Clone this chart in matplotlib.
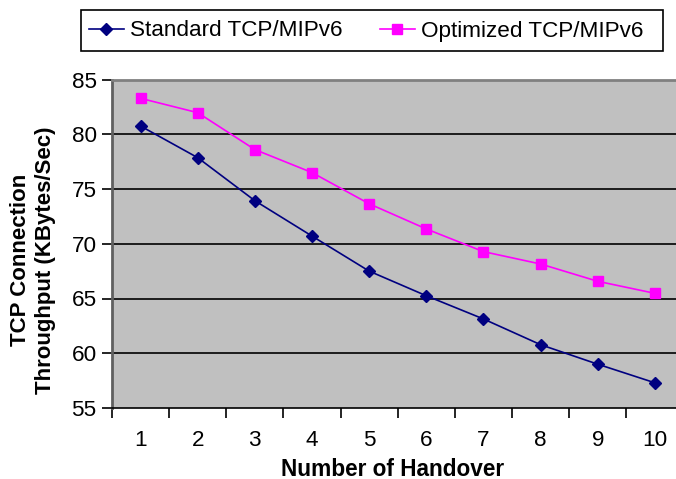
import matplotlib
matplotlib.use("Agg")
import matplotlib.pyplot as plt
from matplotlib.lines import Line2D
from matplotlib.patches import Rectangle
from matplotlib.ticker import MultipleLocator

plt.rcParams['font.family'] = ['Liberation Sans', 'DejaVu Sans']

handovers = [1, 2, 3, 4, 5, 6, 7, 8, 9, 10]
standard = [80.75, 77.86, 73.93, 70.7, 67.5, 65.25, 63.13, 60.78, 59.0, 57.3]
optimized = [83.28, 81.97, 78.6, 76.5, 73.65, 71.35, 69.28, 68.15, 66.57, 65.47]
series_names = ["Standard TCP/MIPv6", "Optimized TCP/MIPv6"]

W, H = 676, 479
fig = plt.figure(figsize=(W / 100, H / 100), dpi=100)
left, right, top, bottom = 112, 683.5, 79.5, 408
ax = fig.add_axes([left / W, 1 - bottom / H, (right - left) / W, (bottom - top) / H])
ax.set_facecolor('#C0C0C0')

ax.set_xlim(0.5, 10.5)
ax.set_ylim(55, 85)
ax.yaxis.set_major_locator(MultipleLocator(5))
for y in range(60, 85, 5):
    ax.axhline(y, color='black', lw=1.2, zorder=1)

ax.plot(handovers, standard, color='#000080', lw=1.2, marker='D', ms=6,
        mfc='#000080', mec='#000080', zorder=3, label=series_names[0])
ax.plot(handovers, optimized, color='#FF00FF', lw=1.2, marker='s', ms=7.5,
        mfc='#FF00FF', mec='#FF00FF', zorder=3, label=series_names[1])

fs = 16.2
ax.set_xticks(handovers)
ax.set_xticks([x + 0.5 for x in range(0, 11)], minor=True)
ax.tick_params(axis='x', which='major', length=0, pad=16, labelsize=fs)
ax.tick_params(axis='x', which='minor', length=7, width=1.2, direction='out', color='black')
ax.tick_params(axis='y', which='major', length=7, width=1.2, direction='out', pad=4, labelsize=fs)

ax.spines['right'].set_visible(False)
ax.spines['top'].set_color('#808080')
ax.spines['top'].set_linewidth(2)
ax.spines['left'].set_color('#606060')
ax.spines['left'].set_linewidth(2)
ax.spines['bottom'].set_color('black')
ax.spines['bottom'].set_linewidth(1.2)

fig.text(393 / W, 1 - 469 / H, "Number of Handover", ha='center', va='center',
         fontsize=16.3, fontweight='bold')
fig.text(33 / W, 1 - 260 / H, "TCP Connection\nThroughput (KBytes/Sec)", ha='center',
         va='center', rotation=90, fontsize=16, fontweight='bold', linespacing=1.2)

handles = [Line2D([0], [0], color='#000080', lw=1.2, marker='D', ms=6),
           Line2D([0], [0], color='#FF00FF', lw=1.2, marker='s', ms=7.5)]
lx0, lx1, ly0, ly1 = 81.3, 662.7, 10.3, 50.7
fig.patches.append(Rectangle((lx0 / W, 1 - ly1 / H), (lx1 - lx0) / W, (ly1 - ly0) / H,
                             transform=fig.transFigure, fill=False, edgecolor='black',
                             lw=1.2, zorder=5))
leg = fig.legend(handles, series_names, loc='center left',
                 bbox_to_anchor=(89 / W, 1 - 31 / H), ncol=2, fontsize=fs, frameon=False,
                 handlelength=1.55, handletextpad=0.27, borderpad=0, columnspacing=1.65,
                 borderaxespad=0)

fig.savefig("out.png", dpi=100)
